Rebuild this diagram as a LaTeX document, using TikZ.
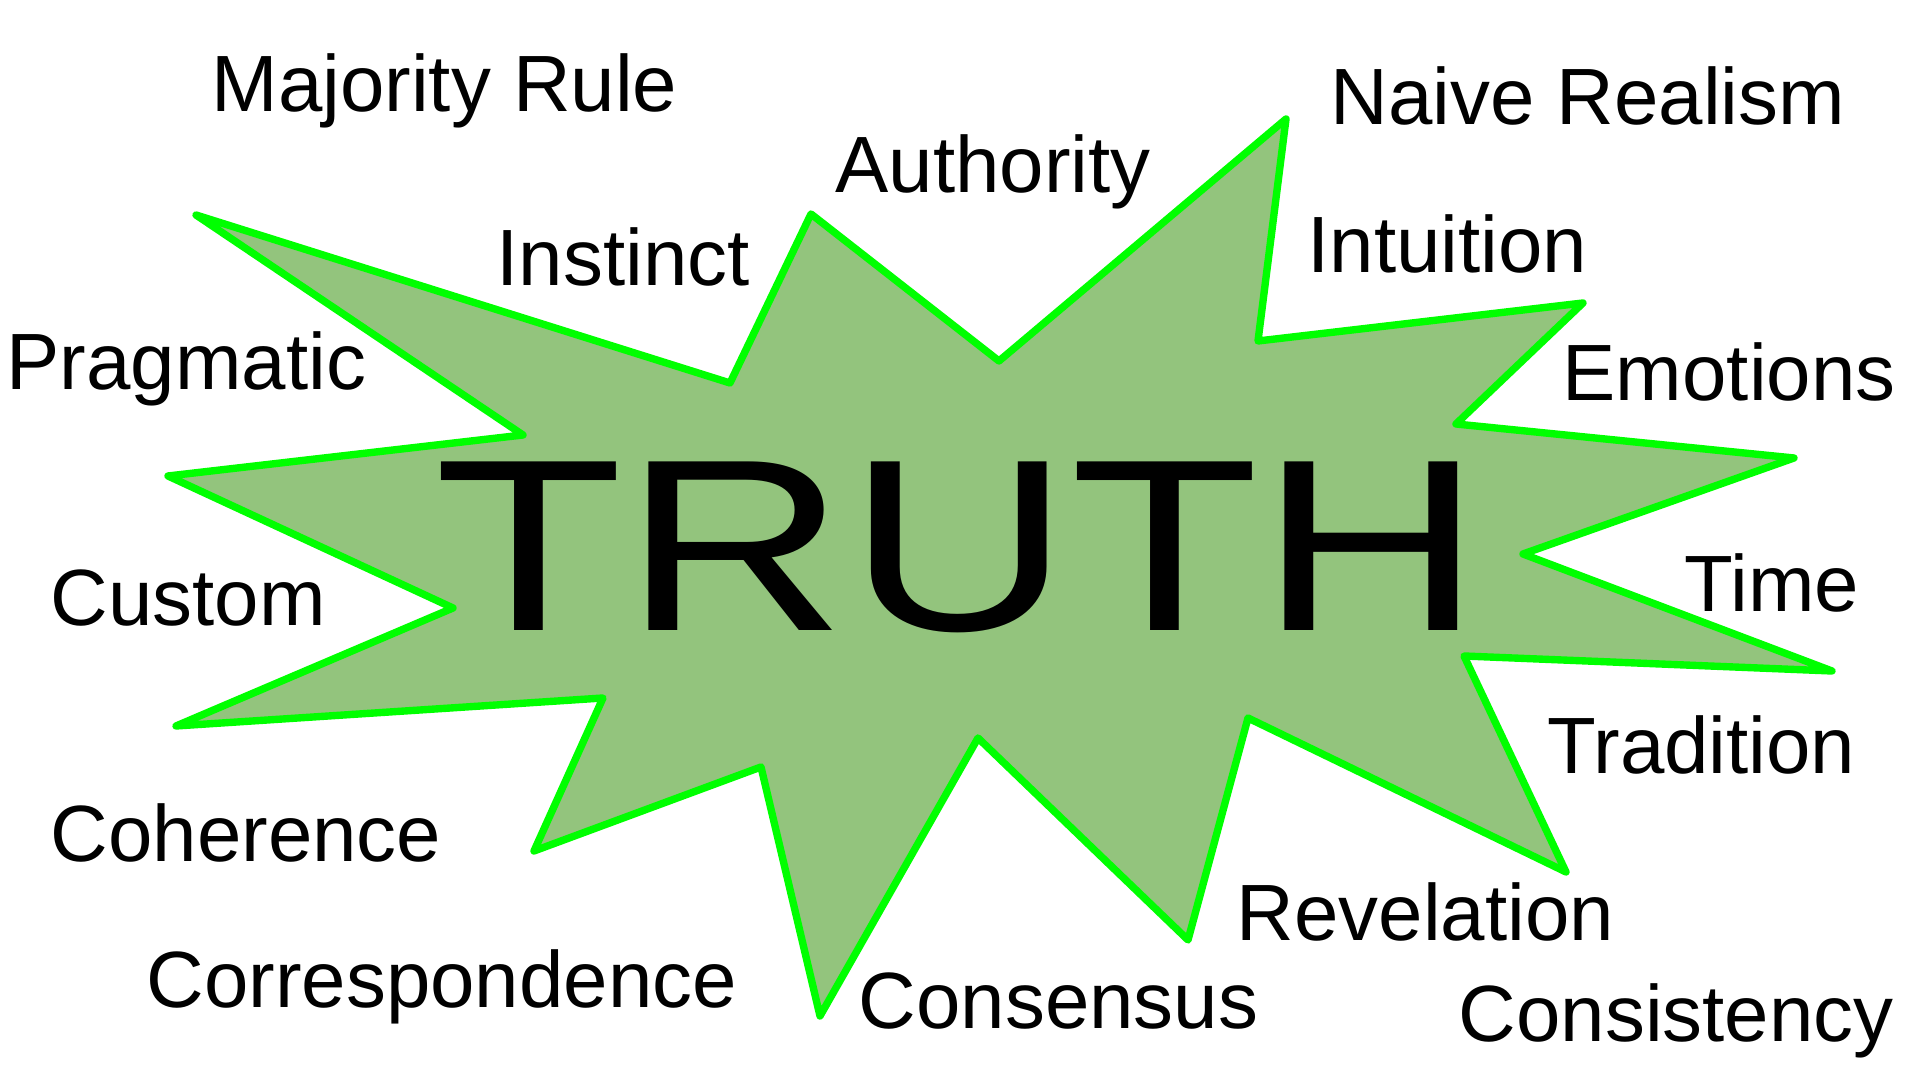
\documentclass[tikz,border=0pt]{standalone}
\usepackage{fontspec}
\setmainfont{Liberation Sans}
\usepackage{graphicx}
\usepackage{tikz}
\usetikzlibrary{positioning}
\definecolor{burstfill}{RGB}{147,196,125}
\definecolor{burstline}{RGB}{0,255,0}

\begin{document}
\begin{tikzpicture}[x=0.01cm,y=-0.01cm]
  \tikzstyle{word}=[anchor=base west, inner sep=0pt, font=\fontsize{22.7pt}{27pt}\selectfont]
  \tikzstyle{burst}=[fill=burstfill, draw=burstline, line width=2.1pt, line join=round]
  \useasboundingbox (0,0) rectangle (1920,1080);
  % the star
  \draw[burst] (196,215) -- (730,383) -- (811,214) -- (999,361) -- (1286,119)
      -- (1258,341) -- (1583,303) -- (1456,424) -- (1794,458) -- (1523,554)
      -- (1832,671) -- (1464,656) -- (1566,872) -- (1248,718) -- (1188,940)
      -- (978,738) -- (820,1016) -- (761,767) -- (534,851) -- (603,698)
      -- (176,726) -- (453,608) -- (168,476) -- (523,435) -- cycle;
  \node[anchor=base west, inner sep=0pt, font=\fontsize{69.7pt}{82pt}\selectfont] (truth) at (434,631) {\scalebox{1.262}[1]{TRUTH}};
  % the words round it
  \node[word] (majority) at (211,112) {Majority Rule};
  \node[word] (instinct) at (496,286) {Instinct};
  \node[word] (authority) at (835,193) {Authority};
  \node[word] (naive) at (1330,125) {Naive Realism};
  \node[word] (intuition) at (1307,273) {Intuition};
  \node[word] (pragmatic) at (6,390) {Pragmatic};
  \node[word] (emotions) at (1562,401) {Emotions};
  \node[word] (custom) at (50,626) {Custom};
  \node[word] (time) at (1684,612) {Time};
  \node[word] (tradition) at (1547,774) {Tradition};
  \node[word] (coherence) at (50,862) {Coherence};
  \node[word] (revelation) at (1236,941) {Revelation};
  \node[word] (correspondence) at (146,1008) {Correspondence};
  \node[word] (consensus) at (858,1029) {Consensus};
  \node[word] (consistency) at (1458,1042) {Consistency};
\end{tikzpicture}
\end{document}
